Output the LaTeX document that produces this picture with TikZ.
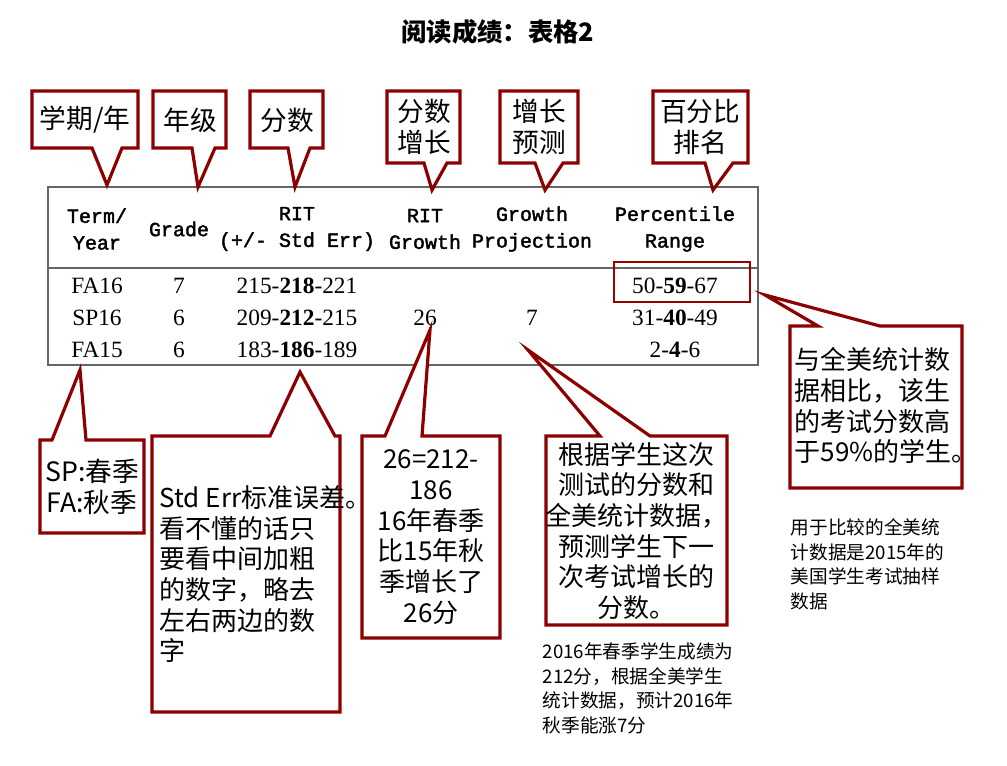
\documentclass[tikz,border=0pt]{standalone}
\usepackage{fontspec}
\setmainfont{Liberation Serif}
\newfontfamily\cjk{Noto Sans CJK SC}
\newfontfamily\hd{Liberation Mono}[FakeBold=2]
\begin{document}
\begin{tikzpicture}[x=0.75pt,y=-0.75pt,
  callout/.style={draw=red!55!black,line width=2.4pt,line join=miter,fill=white},
  cn/.style={font=\cjk\fontsize{20}{23.5}\selectfont,align=center},
  cnb/.style={font=\cjk\fontsize{19.5}{23}\selectfont,align=center},
  hdr/.style={font=\hd\fontsize{15}{20}\selectfont,align=center},
  dat/.style={font=\fontsize{17.5}{20}\selectfont},
  small/.style={font=\cjk\fontsize{14}{18.5}\selectfont,align=left,anchor=north west}]
\useasboundingbox (0,0) rectangle (1007,765);
\fill[white] (0,0) rectangle (1007,765);
\node[font=\cjk\bfseries\fontsize{19}{22}\selectfont] (title) at (498,32) {阅读成绩：表格2};
% table
\draw[gray!80!black,line width=1pt] (48,187) rectangle (758,365);
\draw[gray!80!black,line width=1pt] (48,268) -- (758,268);
\draw[red!60!black,line width=0.8pt] (614,262) rectangle (750,302);
\node[hdr] (h1) at (97,229) {Term/\\Year};
\node[hdr] (h2) at (179,229) {Grade};
\node[hdr] (h3) at (297,229) {RIT\\(+/- Std Err)};
\node[hdr] (h4) at (425,229) {RIT\\Growth};
\node[hdr] (h5) at (532,229) {Growth\\Projection};
\node[hdr] (h6) at (675,229) {Percentile\\Range};
\foreach \y/\a/\b/\c/\d/\e/\f in {286/FA16/7/215/218/221/50-\textbf{59}-67,318/SP16/6/209/212/215/31-\textbf{40}-49,350/FA15/6/183/186/189/2-\textbf{4}-6}{
  \node[dat] at (97,\y) {\a};
  \node[dat] at (179,\y) {\b};
  \node[dat] at (297,\y) {\c-\textbf{\d}-\e};
  \node[dat] at (675,\y) {\f};
}
\node[dat] (g26) at (425,318) {26};
\node[dat] (g7) at (532,318) {7};
% top callouts
\draw[callout] (32,91) -- (138,91) -- (138,148) -- (122,148) -- (107,185) -- (92,148) -- (32,148) -- cycle;
\node[cn] (c1) at (85,120) {学期/年};
\draw[callout] (153,91) -- (226,91) -- (226,148) -- (215,148) -- (198,187) -- (192,148) -- (153,148) -- cycle;
\node[cn] (c2) at (190,120) {年级};
\draw[callout] (250,91) -- (323,91) -- (323,148) -- (310,148) -- (295,187) -- (288,148) -- (250,148) -- cycle;
\node[cn] (c3) at (287,120) {分数};
\draw[callout] (387,91) -- (460,91) -- (460,163) -- (447,163) -- (432,190) -- (424,163) -- (387,163) -- cycle;
\node[cn] (c4) at (424,127) {分数\\增长};
\draw[callout] (500,91) -- (578,91) -- (578,163) -- (563,163) -- (545,190) -- (535,163) -- (500,163) -- cycle;
\node[cn] (c5) at (539,127) {增长\\预测};
\draw[callout] (653,91) -- (748,91) -- (748,163) -- (733,163) -- (713,190) -- (705,163) -- (653,163) -- cycle;
\node[cn] (c6) at (700,127) {百分比\\排名};
% bottom callouts
\draw[callout] (40,440) -- (52,440) -- (80,370) -- (86,440) -- (144,440) -- (144,533) -- (40,533) -- cycle;
\node[cn] (b1) at (92,487) {SP:春季\\FA:秋季};
\draw[callout] (152,436) -- (270,436) -- (300,372) -- (335,436) -- (340,436) -- (340,712) -- (152,712) -- cycle;
\node[cnb,align=left,anchor=north west] (b2) at (155,481) {Std Err标准误差。\\看不懂的话只\\要看中间加粗\\的数字，略去\\左右两边的数\\字};
\draw[callout] (362,436) -- (385,436) -- (430,330) -- (422,436) -- (500,436) -- (500,638) -- (362,638) -- cycle;
\node[cnb] (b3) at (431,537) {26=212-\\186\\16年春季\\比15年秋\\季增长了\\26分};
\draw[callout] (546,436) -- (600,436) -- (528,350) -- (650,436) -- (727,436) -- (727,625) -- (546,625) -- cycle;
\node[cnb] (b4) at (636,531) {根据学生这次\\测试的分数和\\全美统计数据，\\预测学生下一\\次考试增长的\\分数。};
\draw[callout] (790,326) -- (818,326) -- (765,295) -- (880,326) -- (962,326) -- (962,488) -- (790,488) -- cycle;
\node[cnb,align=left,anchor=north west] (b5) at (790,343) {与全美统计数\\据相比，该生\\的考试分数高\\于59\%的学生。};
\node[small] (n1) at (786,514) {用于比较的全美统\\计数据是2015年的\\美国学生考试抽样\\数据};
\node[small] (n2) at (538,638) {2016年春季学生成绩为\\212分，根据全美学生\\统计数据，预计2016年\\秋季能涨7分};
\end{tikzpicture}
\end{document}
